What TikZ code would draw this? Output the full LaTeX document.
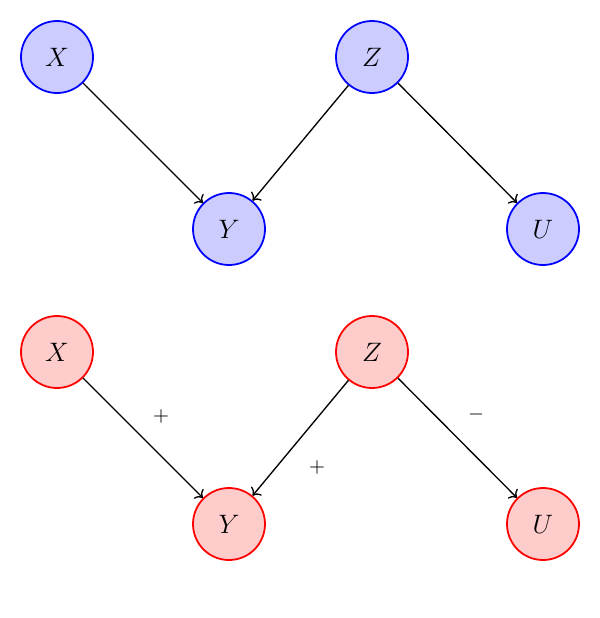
\documentclass[tikz,border=0pt]{standalone}
\usepackage{tikz}
\usetikzlibrary{arrows.meta,positioning}
\tikzset{
  bluevar/.style={circle, draw=blue, thick, fill=blue!20, minimum size=32.4pt, inner sep=0pt, font=\large},
  redvar/.style={circle, draw=red, thick, fill=red!20, minimum size=32.4pt, inner sep=0pt, font=\large},
  arrow/.style={->, semithick, draw=black},
  signlabel/.style={font=\small, inner sep=1pt}
}
\begin{document}
\begin{tikzpicture}[x=0.45pt, y=-0.45pt]
  \useasboundingbox (0,0) rectangle (600,618);
  % causal graph
  \node[bluevar] (x1) at (57,57) {$X$};
  \node[bluevar] (z1) at (372,57) {$Z$};
  \node[bluevar] (y1) at (229,229) {$Y$};
  \node[bluevar] (u1) at (543,229) {$U$};

  \draw[arrow] (x1) -- (y1);
  \draw[arrow] (z1) -- (y1);
  \draw[arrow] (z1) -- (u1);

  % signed graph
  \node[redvar] (x2) at (57,352) {$X$};
  \node[redvar] (z2) at (372,352) {$Z$};
  \node[redvar] (y2) at (229,524) {$Y$};
  \node[redvar] (u2) at (543,524) {$U$};

  \draw[arrow] (x2) -- (y2);
  \draw[arrow] (z2) -- (y2);
  \draw[arrow] (z2) -- (u2);

  \node[signlabel] (sxy) at (161,416) {$+$};
  \node[signlabel] (szy) at (317,467) {$+$};
  \node[signlabel] (szu) at (476,414) {$-$};
\end{tikzpicture}
\end{document}
